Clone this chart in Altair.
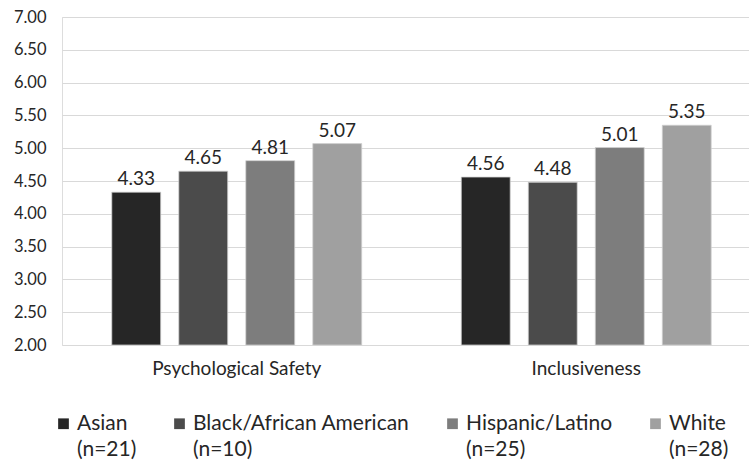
import altair as alt
import pandas as pd

categories = ["Psychological Safety", "Inclusiveness"]
groups = ["Asian\n(n=21)", "Black/African American\n(n=10)", "Hispanic/Latino\n(n=25)", " White\n(n=28)"]
psych_values = [4.33, 4.65, 4.81, 5.07]
incl_values = [4.56, 4.48, 5.01, 5.35]
colors = ["#262626", "#4b4b4b", "#7d7d7d", "#a0a0a0"]
y_ticks = [2.0, 2.5, 3.0, 3.5, 4.0, 4.5, 5.0, 5.5, 6.0, 6.5, 7.0]
y_min, y_max = 2, 7

rows = []
for cat, vals in zip(categories, [psych_values, incl_values]):
    for g, v in zip(groups, vals):
        rows.append({"Category": cat, "Group": g, "Value": v})
df = pd.DataFrame(rows)

FONT = "Lato"
TXT = "#262626"

x = alt.X("Category:N", sort=categories, title=None,
          scale=alt.Scale(paddingInner=0, paddingOuter=0, range=[0, 699]),
          axis=alt.Axis(labelAngle=0, domain=False, ticks=False, labelFont=FONT,
                        labelFontSize=19, labelColor=TXT, labelPadding=14))
xo = alt.XOffset("Group:N", sort=groups,
                 scale=alt.Scale(paddingInner=0.27, paddingOuter=0.743))
y = alt.Y("Value:Q", title=None,
          scale=alt.Scale(domain=[y_min, y_max], nice=False, zero=False),
          axis=alt.Axis(values=y_ticks, format=".2f", domain=False, ticks=False,
                        labelFont=FONT, labelFontSize=16.5, labelColor=TXT,
                        labelPadding=16, gridColor="#d9d9d9", gridWidth=1.2))

color = alt.Color("Group:N", sort=groups,
                  scale=alt.Scale(domain=groups, range=colors),
                  legend=alt.Legend(title=None, orient="none", direction="horizontal",
                                    legendX=-9, legendY=396, columns=4,
                                    symbolType="square", symbolSize=115,
                                    symbolStrokeWidth=0, labelFont=FONT,
                                    labelFontSize=21, labelColor=TXT,
                                    labelOffset=3, columnPadding=32,
                                    labelLimit=400,
                                    labelExpr="split(datum.label, '\\n')",
                                    labelBaseline="middle"))

bars = alt.Chart(df).mark_bar(stroke="#d0d0d0", strokeWidth=0.75).encode(
    x=x, xOffset=xo, y=y, y2=alt.datum(y_min), color=color)

labels = alt.Chart(df).mark_text(font=FONT, fontSize=19, color=TXT, dy=-7,
                                 baseline="alphabetic").encode(
    x=x, xOffset=xo, y=y, text=alt.Text("Value:Q", format=".2f"))

chart = alt.layer(bars, labels).properties(
    width=687, height=328,
    autosize=alt.AutoSizeParams(type="none"),
    padding={"left": 62, "top": 17, "right": 0, "bottom": 115},
).configure_view(stroke=None).configure(style={"guide-label": {"lineHeight": 26}})

chart.save("out.html", embed_options={"renderer": "svg", "actions": False})
